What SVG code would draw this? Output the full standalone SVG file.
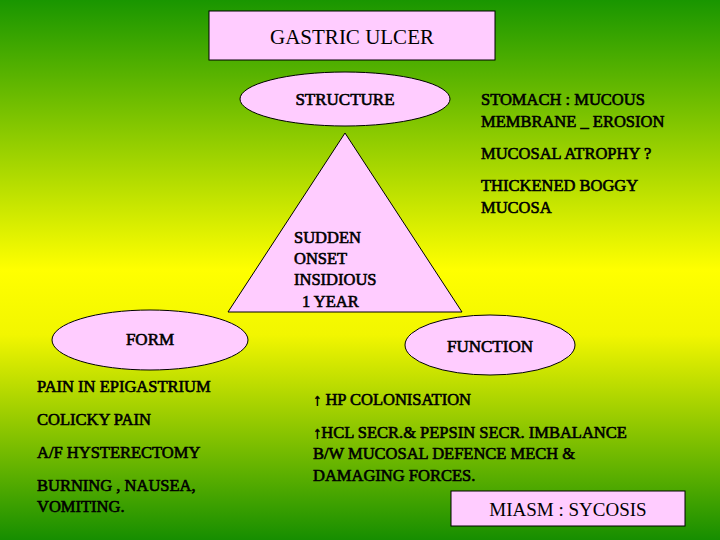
<svg xmlns="http://www.w3.org/2000/svg" width="720" height="540" viewBox="0 0 720 540">
<defs>
<linearGradient id="bg" x1="0" y1="0" x2="0" y2="1">
<stop offset="0" stop-color="#199600"/>
<stop offset="0.5" stop-color="#ffff00"/>
<stop offset="0.62" stop-color="#f2f600"/>
<stop offset="1" stop-color="#168e00"/>
</linearGradient>
<style>
.s{fill:#ffccff;stroke:#000;stroke-width:1}
text{font-family:"Liberation Serif","Times New Roman",serif;fill:#000}
.t{font-size:16.5px;stroke:#000;stroke-width:0.6}
.h{font-size:21px}
</style>
</defs>
<rect width="720" height="540" fill="url(#bg)"/>
<g id="title"><rect class="s" x="209" y="11" width="286" height="49"/><text class="h" x="352" y="44" text-anchor="middle">GASTRIC ULCER</text></g>
<g id="structure"><ellipse class="s" cx="345" cy="99" rx="105" ry="27"/><text class="t" x="345" y="105" text-anchor="middle" style="font-size:17px">STRUCTURE</text></g>
<g id="triangle"><polygon class="s" points="345,133 228,312 462,312"/>
<text class="t" x="294" y="243">SUDDEN</text><text class="t" x="294" y="264">ONSET</text><text class="t" x="294" y="285">INSIDIOUS</text><text class="t" x="302" y="307">1 YEAR</text></g>
<g id="structure-notes">
<text class="t" x="481" y="105">STOMACH : MUCOUS</text><text class="t" x="481" y="127">MEMBRANE _ EROSION</text>
<text class="t" x="481" y="159">MUCOSAL ATROPHY ?</text>
<text class="t" x="481" y="191">THICKENED BOGGY</text><text class="t" x="481" y="213">MUCOSA</text></g>
<g id="form"><ellipse class="s" cx="150" cy="340" rx="98" ry="30"/><text class="t" x="150" y="345" text-anchor="middle" style="font-size:17px">FORM</text>
<text class="t" x="37" y="392">PAIN IN EPIGASTRIUM</text>
<text class="t" x="37" y="425">COLICKY PAIN</text>
<text class="t" x="37" y="458">A/F HYSTERECTOMY</text>
<text class="t" x="37" y="491">BURNING , NAUSEA,</text><text class="t" x="37" y="512">VOMITING.</text></g>
<g id="function"><ellipse class="s" cx="490" cy="345" rx="85" ry="30"/><text class="t" x="490" y="352" text-anchor="middle" style="font-size:17px">FUNCTION</text>
<text class="t" x="313" y="405">↑ HP COLONISATION</text>
<text class="t" x="313" y="438">↑HCL SECR.&amp; PEPSIN SECR. IMBALANCE</text>
<text class="t" x="313" y="459">B/W MUCOSAL DEFENCE MECH &amp;</text>
<text class="t" x="313" y="481">DAMAGING FORCES.</text></g>
<g id="miasm"><rect class="s" x="451" y="491" width="234" height="35"/><text class="h" x="568" y="516" text-anchor="middle" style="font-size:19px">MIASM : SYCOSIS</text></g>
<g id="connectors"/>
</svg>
